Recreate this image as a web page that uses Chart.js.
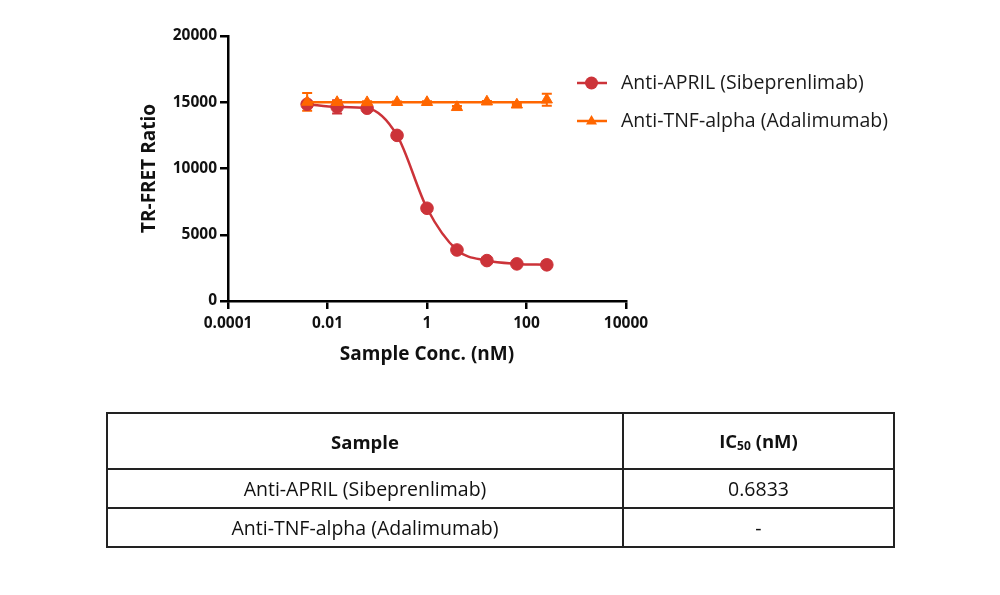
<!DOCTYPE html>
<html>
<head>
<meta charset="utf-8">
<script src="https://cdn.jsdelivr.net/npm/chart.js@4.4.1/dist/chart.umd.min.js"></script>
<style>
  html, body { margin: 0; padding: 0; background: #fff; }
  #wrap { position: relative; width: 1000px; height: 595px; }
  #chart { position: absolute; left: 0; top: 0; }
  table {
    position: absolute; left: 106px; top: 412px; width: 789px;
    border-collapse: collapse; font-family: 'Open Sans', sans-serif; color: #111;
  }
  td, th { border: 2px solid #222; text-align: center; font-size: 19.5px; padding: 0; }
  th { height: 54px; font-weight: 700; font-size: 18.5px; }
  td { height: 37px; }
  sub { font-size: 12px; vertical-align: -2px; }
</style>
</head>
<body>
<div id="wrap">
  <canvas id="chart" width="1000" height="595"></canvas>
  <table>
    <tr><th style="width:514px">Sample</th><th>IC<sub>50</sub> (nM)</th></tr>
    <tr><td>Anti-APRIL (Sibeprenlimab)</td><td>0.6833</td></tr>
    <tr><td>Anti-TNF-alpha (Adalimumab)</td><td>-</td></tr>
  </table>
</div>
<script>
// concentrations (nM), 4-fold dilution
var conc = [0.0039, 0.0156, 0.0625, 0.25, 1, 4, 16, 64, 256];
var aprilMean = [14850, 14650, 14550, 12500, 7000, 3850, 3050, 2800, 2730];
var aprilSd = [150, 500, 120, 100, 150, 100, 80, 60, 80];
var tnfMean = [15020, 15000, 14990, 15000, 15000, 14620, 15040, 14810, 15190];
var tnfSd = [670, 100, 80, 60, 70, 90, 60, 80, 450];
// horizontal fit line for the control
var tnfFitX = [0.0039, 256];
var tnfFitY = [15000, 15000];
var xTicks = [0.0001, 0.01, 1, 100, 10000];
var xTickLabels = ['0.0001', '0.01', '1', '100', '10000'];
var yTicks = [0, 5000, 10000, 15000, 20000];

var red = '#CC3339';
var orange = '#FF6600';
var font = "'Open Sans', sans-serif";

function pts(xs, ys) {
  return xs.map(function (x, i) { return { x: x, y: ys[i] }; });
}

// error bars drawn under the markers
var errorBars = {
  id: 'errorBars',
  beforeDatasetsDraw: function (chart) {
    var ctx = chart.ctx, x = chart.scales.x, y = chart.scales.y;
    chart.data.datasets.forEach(function (ds) {
      if (!ds.sd) return;
      ctx.save();
      ctx.strokeStyle = ds.borderColor;
      ctx.lineWidth = 2;
      ds.data.forEach(function (p, i) {
        var px = x.getPixelForValue(p.x);
        var top = y.getPixelForValue(p.y + ds.sd[i]);
        var bot = y.getPixelForValue(p.y - ds.sd[i]);
        ctx.beginPath();
        ctx.moveTo(px, top); ctx.lineTo(px, bot);
        ctx.moveTo(px - 5, top); ctx.lineTo(px + 5, top);
        ctx.moveTo(px - 5, bot); ctx.lineTo(px + 5, bot);
        ctx.stroke();
      });
      ctx.restore();
    });
  }
};

// legend with line + marker, in the upper right of the plot
var lineLegend = {
  id: 'lineLegend',
  afterDraw: function (chart) {
    var ctx = chart.ctx, area = chart.chartArea;
    var items = [
      { text: 'Anti-APRIL (Sibeprenlimab)', color: red, shape: 'circle' },
      { text: 'Anti-TNF-alpha (Adalimumab)', color: orange, shape: 'triangle' }
    ];
    var x0 = area.right - 49, y0 = area.top + 47;
    ctx.save();
    items.forEach(function (it, i) {
      var yy = y0 + i * 38;
      ctx.strokeStyle = it.color; ctx.fillStyle = it.color; ctx.lineWidth = 2.5;
      ctx.beginPath(); ctx.moveTo(x0, yy); ctx.lineTo(x0 + 30, yy); ctx.stroke();
      var cx = x0 + 14.5;
      ctx.beginPath();
      if (it.shape === 'circle') {
        ctx.arc(cx, yy, 6.5, 0, Math.PI * 2);
      } else {
        ctx.moveTo(cx, yy - 6); ctx.lineTo(cx + 5.5, yy + 3.5); ctx.lineTo(cx - 5.5, yy + 3.5); ctx.closePath();
      }
      ctx.fill();
      ctx.fillStyle = '#1a1a1a';
      ctx.font = '19.5px ' + font;
      ctx.textBaseline = 'middle';
      ctx.fillText(it.text, x0 + 44, yy);
    });
    ctx.restore();
  }
};

var ctx = document.getElementById('chart').getContext('2d');
var chart = new Chart(ctx, {
  type: 'line',
  data: {
    datasets: [{
      label: 'Anti-APRIL (Sibeprenlimab)',
      data: pts(conc, aprilMean),
      sd: aprilSd,
      borderColor: red,
      backgroundColor: red,
      borderWidth: 2.5,
      pointStyle: 'circle',
      pointRadius: 6.3,
      pointBorderWidth: 1,
      cubicInterpolationMode: 'monotone',
      order: 3
    }, {
      label: 'Anti-TNF-alpha fit',
      data: pts(tnfFitX, tnfFitY),
      borderColor: orange,
      borderWidth: 2.5,
      pointRadius: 0,
      order: 2
    }, {
      label: 'Anti-TNF-alpha (Adalimumab)',
      data: pts(conc, tnfMean),
      sd: tnfSd,
      showLine: false,
      borderColor: orange,
      backgroundColor: orange,
      pointStyle: 'triangle',
      pointRadius: 6.5,
      pointBorderWidth: 1,
      order: 1
    }]
  },
  options: {
    responsive: false,
    animation: false,
    layout: { padding: { left: 130, top: 36, right: 374, bottom: 214 } },
    plugins: { legend: { display: false }, tooltip: { enabled: false } },
    scales: {
      x: {
        type: 'logarithmic',
        min: 0.0001,
        max: 10000,
        afterBuildTicks: function (scale) {
          scale.ticks = xTicks.map(function (v) { return { value: v }; });
        },
        afterFit: function (scale) { scale.height = 80; },
        border: { color: '#000', width: 2.5 },
        grid: { drawOnChartArea: false, tickLength: 8, color: '#000', lineWidth: 2.5 },
        ticks: {
          color: '#111', padding: 5, maxRotation: 0,
          font: { family: font, size: 15.5, weight: 'bold' },
          callback: function (v, i) { return xTickLabels[i]; }
        },
        title: {
          display: true, text: 'Sample Conc. (nM)', color: '#111',
          font: { family: font, size: 19, weight: 'bold' },
          padding: { top: 0, bottom: 15 }
        }
      },
      y: {
        min: 0,
        max: 20000,
        afterBuildTicks: function (scale) {
          scale.ticks = yTicks.map(function (v) { return { value: v }; });
        },
        afterFit: function (scale) { scale.width = 98; },
        border: { color: '#000', width: 2.5 },
        grid: { drawOnChartArea: false, tickLength: 8, color: '#000', lineWidth: 2.5 },
        ticks: {
          color: '#111', padding: 3,
          font: { family: font, size: 15.5, weight: 'bold' },
          callback: function (v) { return String(v); }
        },
        title: {
          display: true, text: 'TR-FRET Ratio', color: '#111',
          font: { family: font, size: 19, weight: 'bold' },
          padding: { top: 8, bottom: 0 }
        }
      }
    }
  },
  plugins: [errorBars, lineLegend]
});
</script>
</body>
</html>
